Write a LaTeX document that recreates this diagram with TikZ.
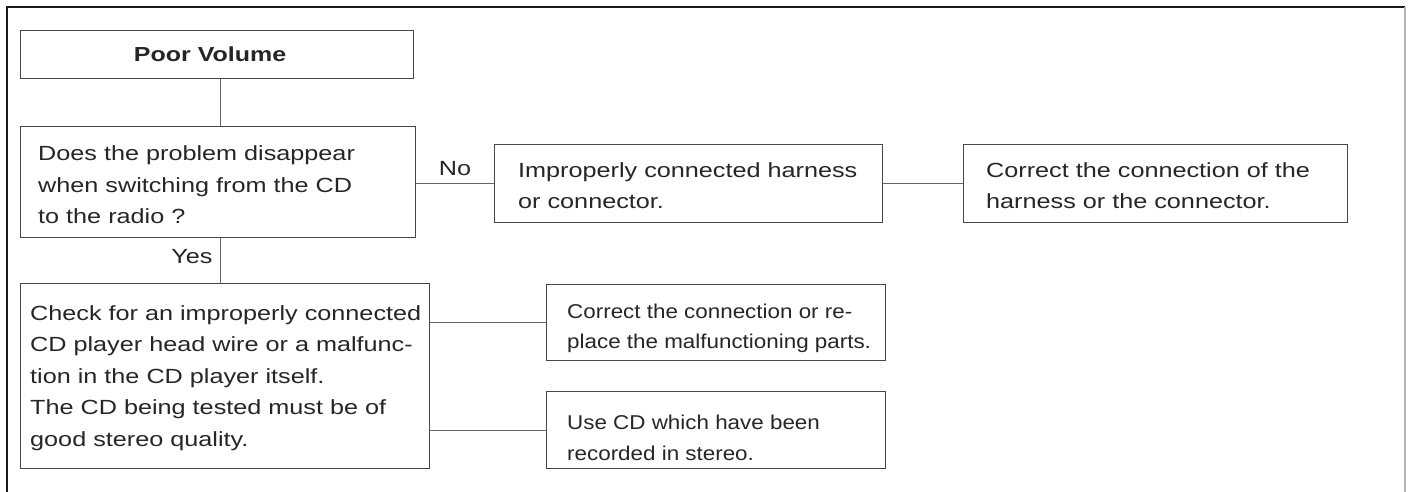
\documentclass[tikz,border=0pt]{standalone}
\usepackage{fontspec}
\setmainfont{Liberation Sans}[FakeStretch=1.23]
\newfontfamily\narrowfont{Liberation Sans}[FakeStretch=1.12]
\begin{document}
\begin{tikzpicture}[x=1pt,y=-1pt]
\tikzset{
 box/.style={draw=black!72, line width=1.1pt, rectangle, inner sep=0pt, anchor=north west},
 txt/.style={anchor=west, align=left, inner sep=0pt, font=\fontsize{20.5}{31.5}\selectfont, text=black!85},
 smalltxt/.style={txt, font=\narrowfont\fontsize{20}{30.5}\selectfont},
 conn/.style={draw=black!60, line width=1.1pt},
 lbl/.style={inner sep=0pt, font=\fontsize{20.5}{24}\selectfont, text=black!85}
}
\fill[white] (0,0) rectangle (1409,492);
\useasboundingbox (0,0) rectangle (1409,492);
\draw[line width=2.2pt, black!90] (7,492) -- (7,7) -- (1405,7);
\draw[line width=1.5pt, black!30] (1405,7) -- (1405,492);

% boxes
\node[box, minimum width=393pt, minimum height=48pt] (pv) at (20,30) {};
\node[box, minimum width=395pt, minimum height=111pt] (q) at (20,126) {};
\node[box, minimum width=388pt, minimum height=78pt] (imp) at (494,144) {};
\node[box, minimum width=384pt, minimum height=78pt] (cor) at (963,144) {};
\node[box, minimum width=409pt, minimum height=185pt] (chk) at (20,283) {};
\node[box, minimum width=339pt, minimum height=76pt] (cor2) at (546,284) {};
\node[box, minimum width=339pt, minimum height=77pt] (use) at (546,391) {};

% texts
\node[txt, anchor=center, font=\bfseries\fontsize{20.3}{24}\selectfont] (pvt) at ([xshift=-7pt]pv.center) {Poor Volume};
\node[txt] (qt) at ([xshift=18pt, yshift=-3pt]q.west) {Does the problem disappear\\when switching from the CD\\to the radio ?};
\node[txt] (impt) at ([xshift=24pt, yshift=-2pt]imp.west) {Improperly connected harness\\or connector.};
\node[txt] (cort) at ([xshift=23pt, yshift=-2pt]cor.west) {Correct the connection of the\\harness or the connector.};
\node[txt] (chkt) at ([xshift=10pt, yshift=-2pt]chk.west) {Check for an improperly connected\\CD player head wire or a malfunc-\\tion in the CD player itself.\\The CD being tested must be of\\good stereo quality.};
\node[smalltxt] (cor2t) at ([xshift=21pt, yshift=-6pt]cor2.west) {Correct the connection or re-\\place the malfunctioning parts.};
\node[smalltxt] (uset) at ([xshift=21pt, yshift=-8pt]use.west) {Use CD which have been\\recorded in stereo.};

% labels
\node[lbl] (no) at (455,169) {No};
\node[lbl] (yes) at (192,257) {Yes};

% connectors
\coordinate (vx) at ([xshift=3.5pt]pv.south);
\draw[conn] (vx) -- (vx |- q.north);
\draw[conn] (q.east |- imp.west) -- (imp.west);
\draw[conn] (imp.east) -- (cor.west);
\draw[conn] (vx |- q.south) -- (vx |- chk.north);
\draw[conn] (chk.east |- cor2.west) -- (cor2.west);
\draw[conn] (chk.east |- use.west) -- (use.west);
\end{tikzpicture}
\end{document}
